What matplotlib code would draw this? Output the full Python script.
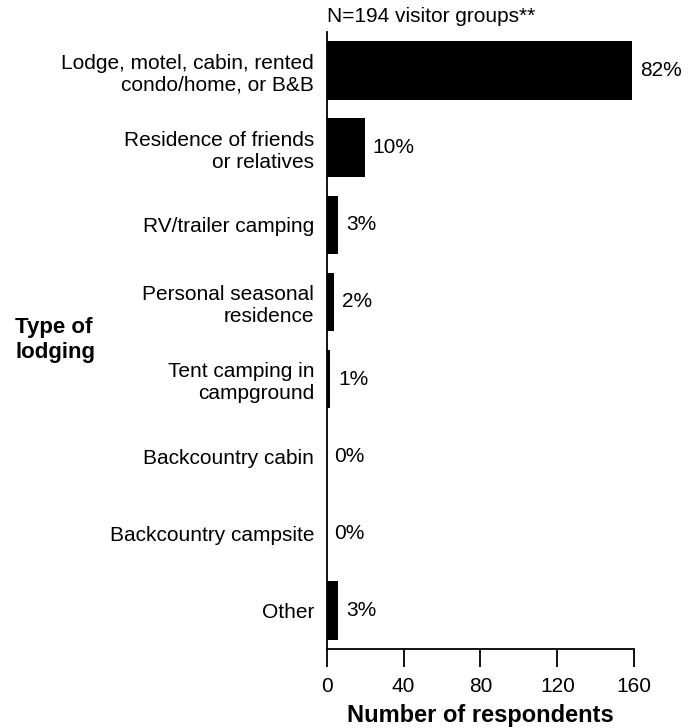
import matplotlib
matplotlib.use('Agg')
import matplotlib.pyplot as plt

plt.rcParams['font.family'] = ['Liberation Sans', 'DejaVu Sans']

categories = ['Lodge, motel, cabin, rented\ncondo/home, or B&B',
              'Residence of friends\nor relatives',
              'RV/trailer camping',
              'Personal seasonal\nresidence',
              'Tent camping in\ncampground',
              'Backcountry cabin',
              'Backcountry campsite',
              'Other']
counts = [159, 20, 6, 4, 2, 0, 0, 6]
percents = ['82%', '10%', '3%', '2%', '1%', '0%', '0%', '3%']
xticks = [0, 40, 80, 120, 160]

fig = plt.figure(figsize=(6.95, 7.28), dpi=100)
ax = fig.add_axes([0.470, 0.1085, 0.4427, 0.8475])

y = list(range(len(categories)))
ax.barh(y, counts, height=0.76, color='black')
ax.set_ylim(len(categories) - 0.5, -0.5)
ax.set_xlim(0, 160)

for yi, c, p in zip(y, counts, percents):
    ax.text(c + 4, yi, p, va='center', ha='left', fontsize=15)

ax.set_yticks(y)
ax.set_yticklabels(categories, fontsize=15, ha='right', linespacing=1.2)
ax.tick_params(axis='y', length=0, pad=9)
ax.set_xticks(xticks)
ax.tick_params(axis='x', direction='out', length=13, width=1.3, labelsize=15, pad=7)

for s in ['top', 'right']:
    ax.spines[s].set_visible(False)
for s in ['left', 'bottom']:
    ax.spines[s].set_linewidth(1.3)

ax.set_xlabel('Number of respondents', fontsize=17, fontweight='bold', labelpad=6)
fig.text(0.022, 0.533, 'Type of\nlodging', fontsize=16, fontweight='bold',
         ha='left', va='center', linespacing=1.2)
fig.text(0.470, 0.978, 'N=194 visitor groups**', fontsize=15, ha='left', va='center')

fig.savefig('out.png', dpi=100)
